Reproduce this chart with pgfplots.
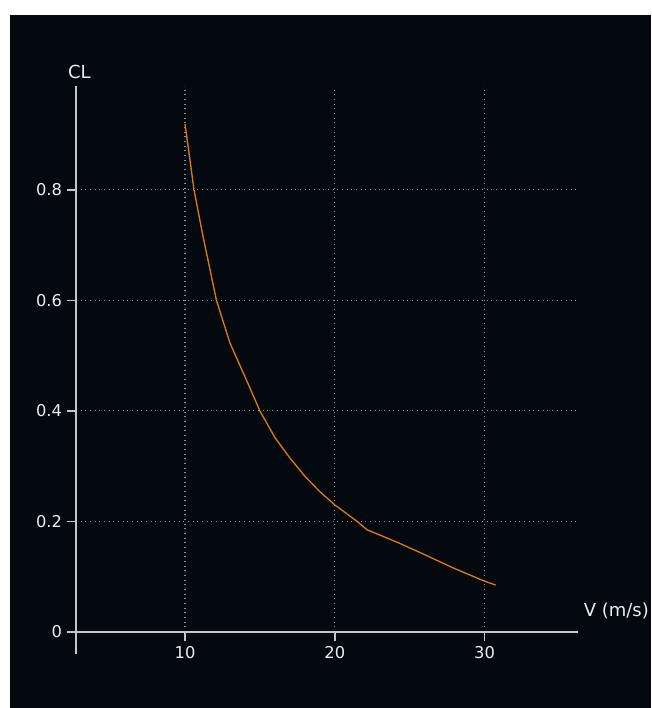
\documentclass[border=0pt]{standalone}
\usepackage{fontspec}
\setmainfont{DejaVu Sans}
\usepackage{pgfplots}
\pgfplotsset{compat=1.18}
\usetikzlibrary{calc}
\pgfdeclarelayer{background}
\pgfsetlayers{background,main}
\definecolor{bg}{HTML}{03090E}
\definecolor{curve}{HTML}{D97A0E}
\definecolor{axc}{HTML}{C4C6C8}
\definecolor{gridc}{HTML}{8A9096}
\definecolor{txt}{HTML}{E8EEF2}
\begin{document}
\begin{tikzpicture}
\begin{axis}[
  scale only axis, width=376.5pt, height=409.5pt,
  xmin=2.72, xmax=36.24, ymin=0, ymax=0.988,
  axis x line=bottom, axis y line=left,
  axis line style={-, axc, line width=1.3pt},
  x axis line style={shorten <=-6pt},
  y axis line style={shorten <=-16.5pt},
  xtick={10,20,30}, ytick={0,0.2,0.4,0.6,0.8},
  tick align=outside,
  major tick length=7pt,
  tick style={axc, line width=1.3pt},
  grid=major,
  major grid style={gridc, line width=0.8pt, dash pattern=on 0.8pt off 2.7pt},
  /pgf/number format/assume math mode=true,
  /pgf/number format/fixed,
  tick label style={font=\fontsize{12.2}{14}\selectfont, text=txt},
  clip=false,
]
\coordinate (O) at (rel axis cs:0,0);
\addplot[curve, line width=1pt] coordinates {
(10.0,0.919) (10.3,0.86) (10.6,0.800) (11.2,0.716) (12.1,0.600) (13.0,0.523)
(14.1,0.456) (15.0,0.400) (16.0,0.352) (17.0,0.315) (18.0,0.282) (19.0,0.254)
(20.0,0.230) (21.5,0.200) (22.15,0.185) (24.2,0.162) (26.0,0.140)
(27.9,0.116) (30.0,0.092) (30.74,0.085)
};
\node[text=txt, font=\fontsize{13.5}{15}\selectfont, anchor=center] at (rel axis cs:0,1) [yshift=10.3pt, xshift=2.6pt] {CL};
\node[text=txt, font=\fontsize{13.5}{15}\selectfont, anchor=west] at (rel axis cs:1,0) [yshift=16pt, xshift=0.8pt] {V (m/s)};
\end{axis}
\begin{pgfonlayer}{background}
\fill[white] ($(O)+(-57pt,-57pt)$) rectangle ($(O)+(431.25pt,474pt)$);
\fill[bg] ($(O)+(-49.5pt,-57pt)$) rectangle ($(O)+(431.25pt,462.75pt)$);
\end{pgfonlayer}
\pgfresetboundingbox
\useasboundingbox ($(O)+(-57pt,-57pt)$) rectangle ($(O)+(431.25pt,474pt)$);
\end{tikzpicture}
\end{document}
